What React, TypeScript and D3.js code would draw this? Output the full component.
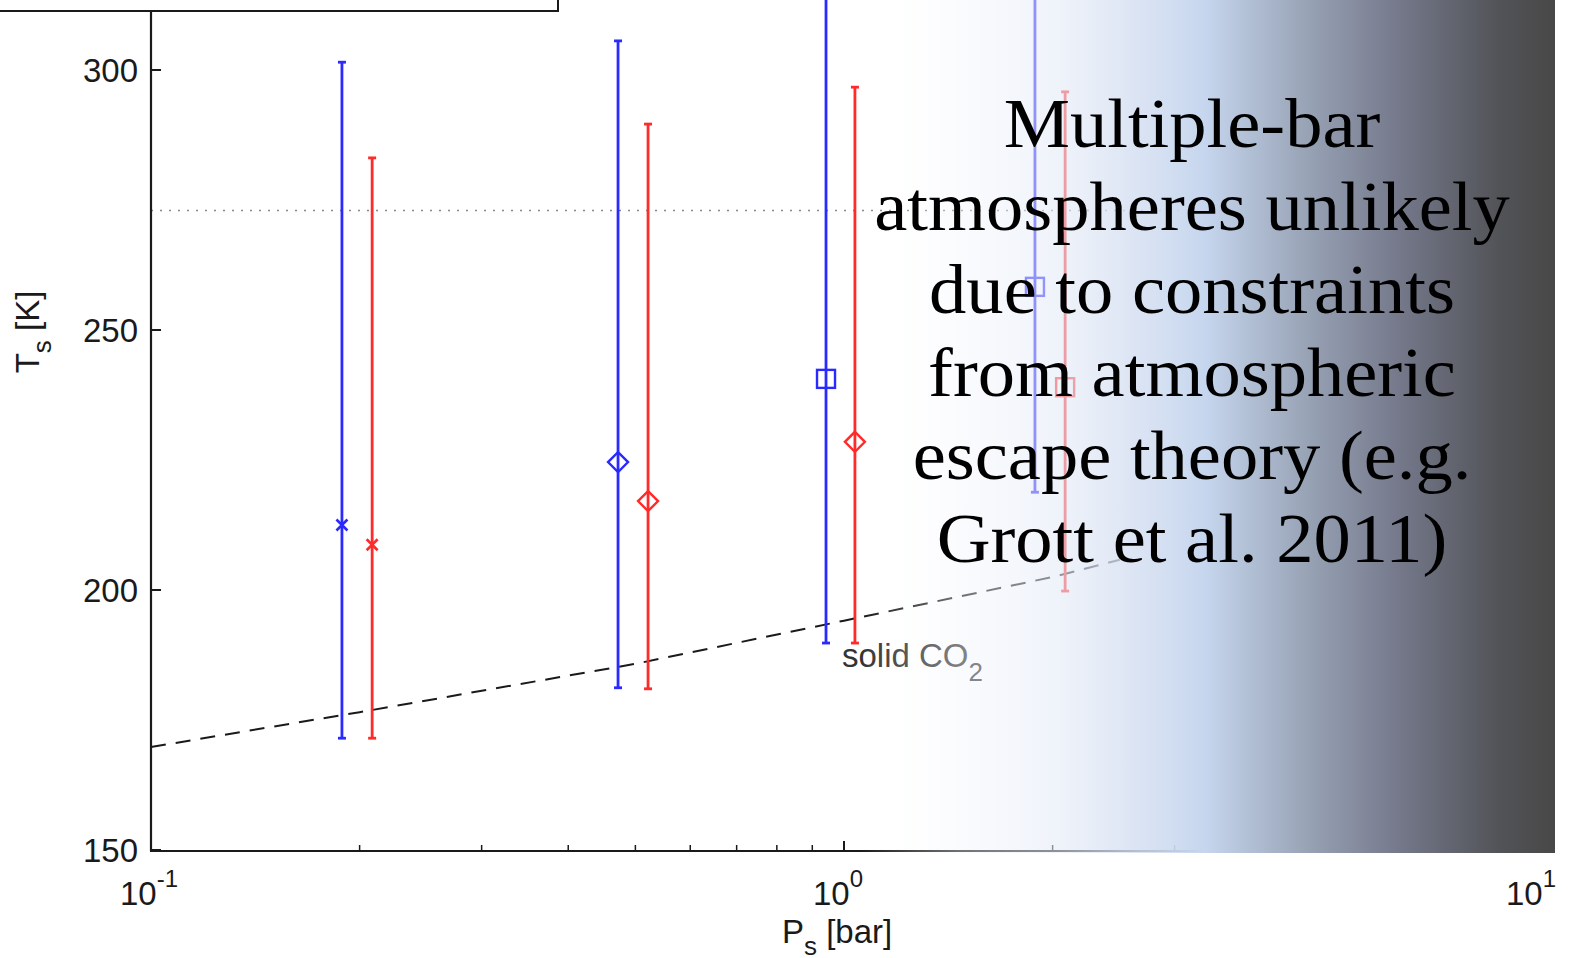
import React from "react";
import * as d3 from "d3";

const W = 1571;
const H = 958;

// error bar data: pressure [bar], marker temperature, lower and upper T [K]
const BLUE_P = [0.1886, 0.472, 0.942, 1.886];
const BLUE_T = [212.5, 224.6, 240.6, 258.3];
const BLUE_LO = [171.5, 181.2, 189.8, 218.8];
const BLUE_HI = [301.5, 305.6, 330, 330];
const BLUE_SYM = ["x", "diamond", "square", "square"];

const RED_P = [0.2085, 0.5215, 1.037, 2.085];
const RED_T = [208.7, 217.1, 228.5, 239.0];
const RED_LO = [171.5, 181.0, 189.8, 199.8];
const RED_HI = [283.1, 289.6, 296.7, 295.8];
const RED_SYM = ["x", "diamond", "diamond", "square"];

// CO2 condensation curve
const CO2_P = [0.1, 0.2, 0.5, 1, 2, 2.5];
const CO2_T = [169.8, 176.5, 185.8, 194.1, 202.5, 205.8];

const T_FREEZE = 273;

const Y_TICKS = [150, 200, 250, 300];
const X_MAJOR = [{ v: 0.1, e: "-1" }, { v: 1, e: "0" }, { v: 10, e: "1" }];
const X_MINOR = [0.2, 0.3, 0.4, 0.5, 0.6, 0.7, 0.8, 0.9, 2, 3, 4, 5, 6, 7, 8, 9];

const NOTE_LINES = [
  "Multiple-bar",
  "atmospheres unlikely",
  "due to constraints",
  "from atmospheric",
  "escape theory (e.g.",
  "Grott et al. 2011)",
];

const BLUE = "#2a2aff";
const RED = "#ff2a2a";
const INK = "#1a1a1a";
const SANS = "Liberation Sans, Arial, sans-serif";

const x = d3.scaleLog().domain([0.1, 10]).range([151, 1537]);
const y = d3.scaleLinear().domain([150, 300]).range([850, 70]);

function Marker({ sym, cx, cy, color }: { sym: string; cx: number; cy: number; color: string }) {
  if (sym === "x") {
    const s = 5.5;
    return (
      <path
        d={`M${cx - s},${cy - s}L${cx + s},${cy + s}M${cx - s},${cy + s}L${cx + s},${cy - s}`}
        stroke={color}
        strokeWidth={2.6}
      />
    );
  }
  if (sym === "diamond") {
    const s = 10;
    return (
      <path
        d={`M${cx},${cy - s}L${cx + s},${cy}L${cx},${cy + s}L${cx - s},${cy}Z`}
        fill="none"
        stroke={color}
        strokeWidth={2.4}
      />
    );
  }
  const s = 9;
  return <rect x={cx - s} y={cy - s} width={2 * s} height={2 * s} fill="none" stroke={color} strokeWidth={2.4} />;
}

function ErrorBars({ P, T, LO, HI, SYM, color }: any) {
  return (
    <g>
      {P.map((p: number, i: number) => {
        const cx = x(p);
        return (
          <g key={i}>
            <line x1={cx} x2={cx} y1={y(HI[i])} y2={y(LO[i])} stroke={color} strokeWidth={2.8} />
            <line x1={cx - 4} x2={cx + 4} y1={y(HI[i])} y2={y(HI[i])} stroke={color} strokeWidth={2.8} />
            <line x1={cx - 4} x2={cx + 4} y1={y(LO[i])} y2={y(LO[i])} stroke={color} strokeWidth={2.8} />
            <Marker sym={SYM[i]} cx={cx} cy={y(T[i])} color={color} />
          </g>
        );
      })}
    </g>
  );
}

export default function App() {
  const co2Line = d3
    .line<number>()
    .x((_, i) => x(CO2_P[i]))
    .y((t) => y(t));

  const gx = (px: number) => (px - 860) / 695;

  return (
    <svg
      width={W}
      height={H}
      style={{ position: "absolute", left: 0, top: 0, background: "#fff" }}
    >
      <defs>
        <linearGradient id="fade" gradientUnits="userSpaceOnUse" x1={860} x2={1555} y1={0} y2={0}>
          <stop offset={0} stopColor="#ffffff" stopOpacity={0} />
          <stop offset={gx(960)} stopColor="#f2f5fb" stopOpacity={0.4} />
          <stop offset={gx(1060)} stopColor="#e3eaf6" stopOpacity={0.58} />
          <stop offset={gx(1130)} stopColor="#d6e0f2" stopOpacity={0.82} />
          <stop offset={gx(1205)} stopColor="#c6d6ee" stopOpacity={1} />
          <stop offset={gx(1300)} stopColor="#9ba6b9" stopOpacity={1} />
          <stop offset={gx(1400)} stopColor="#74788a" stopOpacity={1} />
          <stop offset={gx(1500)} stopColor="#525357" stopOpacity={1} />
          <stop offset={1} stopColor="#484848" stopOpacity={1} />
        </linearGradient>
      </defs>

      {/* freezing point */}
      <line
        x1={x(0.1)}
        x2={x(10)}
        y1={y(T_FREEZE)}
        y2={y(T_FREEZE)}
        stroke="#888"
        strokeWidth={1.5}
        strokeDasharray="2 7"
      />

      {/* CO2 condensation */}
      <path
        d={co2Line(CO2_T) || ""}
        fill="none"
        stroke="#1a1a1a"
        strokeWidth={2}
        strokeDasharray="15 10"
      />
      <text x={842} y={667} fontFamily={SANS} fontSize={33} fill="#333">
        solid CO
        <tspan fontSize={26} dy={14}>2</tspan>
      </text>

      <ErrorBars P={BLUE_P} T={BLUE_T} LO={BLUE_LO} HI={BLUE_HI} SYM={BLUE_SYM} color={BLUE} />
      <ErrorBars P={RED_P} T={RED_T} LO={RED_LO} HI={RED_HI} SYM={RED_SYM} color={RED} />

      {/* axes */}
      <line x1={151} x2={151} y1={0} y2={851} stroke={INK} strokeWidth={2.2} />
      <line x1={150} x2={x(10)} y1={851} y2={851} stroke={INK} strokeWidth={2.2} />
      {Y_TICKS.map((t) => (
        <g key={t}>
          <line x1={151} x2={161} y1={y(t)} y2={y(t)} stroke={INK} strokeWidth={2} />
          <text
            x={138}
            y={y(t)}
            dy="0.36em"
            textAnchor="end"
            fontFamily={SANS}
            fontSize={33}
            fill={INK}
          >
            {t}
          </text>
        </g>
      ))}
      {X_MINOR.map((v) => (
        <line key={v} x1={x(v)} x2={x(v)} y1={851} y2={845} stroke={INK} strokeWidth={1.5} />
      ))}
      {X_MAJOR.map((m) => (
        <g key={m.v}>
          <line x1={x(m.v)} x2={x(m.v)} y1={851} y2={841} stroke={INK} strokeWidth={2} />
          <text x={x(m.v) - 31} y={905} fontFamily={SANS} fontSize={33} fill={INK}>
            10
            <tspan fontSize={24} dy={-18}>{m.e}</tspan>
          </text>
        </g>
      ))}

      {/* axis titles */}
      <text x={782} y={943} fontFamily={SANS} fontSize={33} fill={INK}>
        P
        <tspan fontSize={26} dy={12}>s</tspan>
        <tspan dy={-12}> [bar]</tspan>
      </text>
      <text
        transform="translate(39,332) rotate(-90)"
        textAnchor="middle"
        fontFamily={SANS}
        fontSize={33}
        fill={INK}
      >
        T
        <tspan fontSize={26} dy={12}>s</tspan>
        <tspan dy={-12}> [K]</tspan>
      </text>

      {/* legend box (clipped at the top) */}
      <rect x={-4} y={-4} width={562} height={15} fill="#fff" stroke={INK} strokeWidth={2} />

      {/* gradient overlay */}
      <rect x={860} y={0} width={695} height={853} fill="url(#fade)" />

      {/* annotation */}
      <g transform="translate(1192,0) scale(1.065,1)">
        <text
          x={0}
          y={147}
          textAnchor="middle"
          fontFamily="Liberation Serif, DejaVu Serif, serif"
          fontSize={70}
          fill="#000"
        >
          {NOTE_LINES.map((l, i) => (
            <tspan key={i} x={0} dy={i === 0 ? 0 : 83}>
              {l}
            </tspan>
          ))}
        </text>
      </g>
    </svg>
  );
}
